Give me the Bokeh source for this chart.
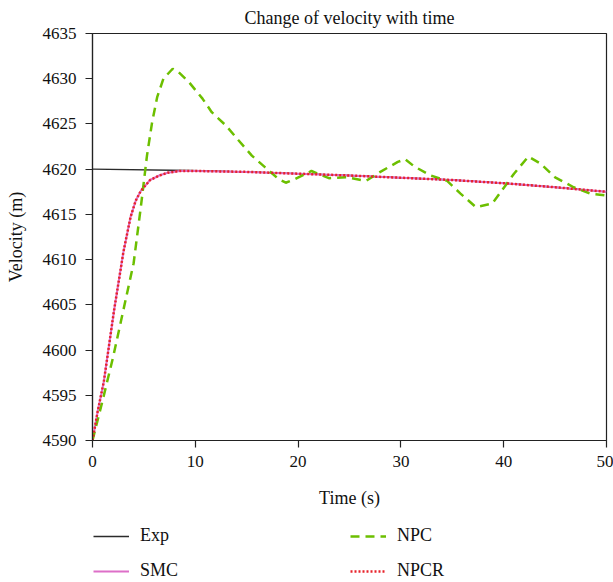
from bokeh.plotting import figure
from bokeh.layouts import column
from bokeh.models import Legend, LegendItem, Range1d, FixedTicker
from bokeh.embed import file_html
from bokeh.resources import INLINE

# ---- data ----
exp_t = [0, 9.5, 15, 20, 25, 30, 35, 40, 45, 50]
exp_v = [4620, 4619.85, 4619.7, 4619.5, 4619.3, 4619.05, 4618.8, 4618.45, 4618.0, 4617.5]

smc_t = [0, 0.5, 1.1, 2.1, 3.0, 3.7, 4.2, 4.7, 5.6, 6.5, 7.3, 8.5, 10, 15, 20, 25, 30, 35, 40, 45, 50]
smc_v = [4590, 4593.2, 4596.5, 4604.4, 4610.8, 4614.7, 4616.5, 4617.6, 4618.8, 4619.3, 4619.6,
         4619.8, 4619.8, 4619.7, 4619.5, 4619.3, 4619.05, 4618.8, 4618.45, 4618.0, 4617.5]

npc_t = [0, 1, 2, 3, 4, 4.7, 5.3, 5.8, 6.3, 6.9, 7.8, 8.4, 9.4, 10.7, 11.6, 13.0, 14.2, 15.5,
         16.8, 18.1, 18.8, 19.7, 21.3, 23.0, 24.8, 26.6, 28.0, 29.7, 30.4, 31.3, 32.9, 34.5,
         35.8, 37.3, 38.9, 41.0, 42.4, 43.6, 45.0, 46.8, 48.4, 50]
npc_v = [4590, 4594.5, 4599.2, 4604.4, 4609.6, 4615.8, 4621.5, 4625.2, 4628.0, 4630.0, 4631.1,
         4630.7, 4629.6, 4627.8, 4626.3, 4624.8, 4623.2, 4621.5, 4620.2, 4618.9, 4618.5, 4618.9,
         4619.8, 4619.0, 4619.1, 4618.7, 4619.7, 4620.8, 4621.1, 4620.3, 4619.3, 4618.7, 4617.3,
         4615.8, 4616.2, 4619.5, 4621.4, 4620.6, 4619.1, 4618.0, 4617.3, 4617.1]

npcr_t = smc_t
npcr_v = smc_v

series_names = ["Exp", "SMC", "NPC", "NPCR"]
x_ticks = [0, 10, 20, 30, 40, 50]
y_ticks = [4590, 4595, 4600, 4605, 4610, 4615, 4620, 4625, 4630, 4635]

FONT = "Liberation Serif"
STYLES = {
    "Exp": dict(line_color="#2b2b2b", line_width=1.3),
    "SMC": dict(line_color="#dd6fc8", line_width=2.0),
    "NPC": dict(line_color="#6cbf00", line_width=2.5, line_dash="9 6"),
    "NPCR": dict(line_color="#e8232b", line_width=2.5, line_dash="2 2"),
}

p = figure(width=613, height=520, frame_width=514, frame_height=407,
           min_border_left=92, min_border_right=7, min_border_top=33, min_border_bottom=80,
           output_backend="svg", toolbar_location=None,
           x_range=Range1d(0, 50), y_range=Range1d(4590, 4635),
           title="Change of velocity with time")

p.title.align = "center"
p.title.text_font = FONT
p.title.text_font_size = "18px"
p.title.text_font_style = "normal"
p.title.text_color = "#111111"
p.title.standoff = 11

p.grid.visible = False
p.outline_line_color = "#222222"
p.outline_line_width = 1.2
p.background_fill_color = "white"
p.border_fill_color = "white"

for ax in (p.xaxis[0], p.yaxis[0]):
    ax.axis_line_color = "#222222"
    ax.axis_line_width = 1.2
    ax.major_tick_line_color = "#222222"
    ax.major_tick_line_width = 1.2
    ax.major_tick_out = 7
    ax.major_tick_in = 0
    ax.minor_tick_line_color = None
    ax.major_label_text_font = FONT
    ax.major_label_text_font_size = "17px"
    ax.major_label_text_color = "#111111"
    ax.axis_label_text_font = FONT
    ax.axis_label_text_font_size = "18px"
    ax.axis_label_text_font_style = "normal"
    ax.axis_label_text_color = "#111111"

p.xaxis.ticker = FixedTicker(ticks=x_ticks)
p.yaxis.ticker = FixedTicker(ticks=y_ticks)
p.xaxis.axis_label = "Time (s)"
p.yaxis.axis_label = "Velocity (m)"
p.xaxis.major_label_standoff = 8
p.yaxis.major_label_standoff = 9
p.xaxis.axis_label_standoff = 18
p.yaxis.axis_label_standoff = 14

p.line(exp_t, exp_v, **STYLES["Exp"])
p.line(smc_t, smc_v, **STYLES["SMC"])
p.line(npc_t, npc_v, **STYLES["NPC"])
p.line(npcr_t, npcr_v, **STYLES["NPCR"])

# ---- legend strip below the chart (its frame is aligned with the chart frame) ----
lg = figure(width=613, height=62, min_border=0, output_backend="svg", toolbar_location=None,
            x_axis_type=None, y_axis_type=None, x_range=Range1d(0, 1), y_range=Range1d(0, 1))
lg.grid.visible = False
lg.outline_line_color = None
lg.background_fill_color = "white"
lg.border_fill_color = "white"

items = []
for name in series_names:
    # single off-range point: nothing visible in the strip, only the legend swatch
    r = lg.line([5], [5], **STYLES[name])
    items.append(LegendItem(label=name, renderers=[r]))

legend = Legend(items=items, location=(1, 1), orientation="vertical", nrows=2)
legend.border_line_color = None
legend.background_fill_alpha = 0
legend.padding = 0
legend.margin = 0
legend.spacing = 14
legend.glyph_width = 36
legend.glyph_height = 20
legend.label_standoff = 11
legend.label_width = 196
legend.label_height = 20
legend.label_text_font = FONT
legend.label_text_font_size = "18px"
legend.label_text_color = "#111111"
legend.label_text_baseline = "middle"
lg.add_layout(legend, "center")

layout = column(p, lg, spacing=0)
open("out.html", "w").write(file_html(layout, INLINE))
